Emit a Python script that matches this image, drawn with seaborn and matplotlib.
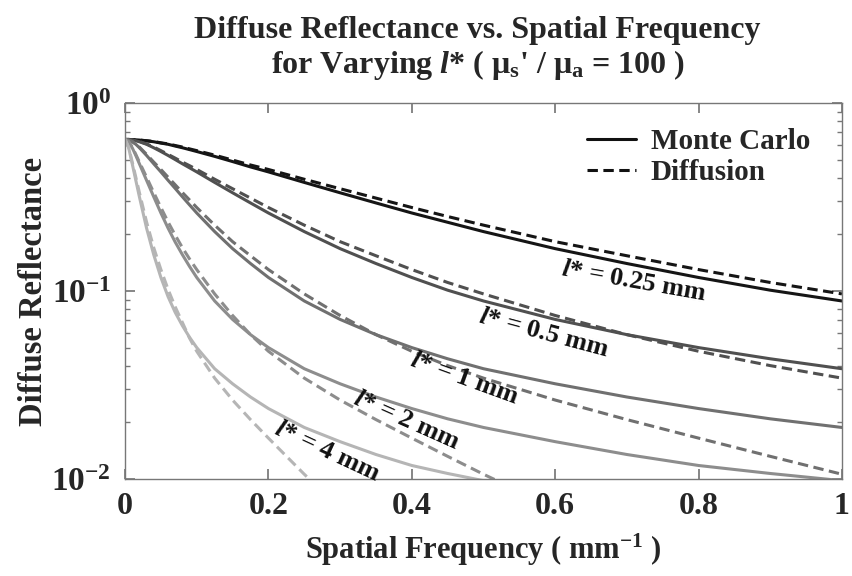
import pandas as pd
import seaborn as sns
import matplotlib.pyplot as plt
from matplotlib.lines import Line2D
from matplotlib.ticker import LogLocator, NullFormatter

# spatial frequency grid (mm^-1)
freq = [0, 0.005, 0.01, 0.015, 0.02, 0.03, 0.04, 0.05, 0.06, 0.07, 0.08, 0.09, 0.1, 0.125,
        0.15, 0.175, 0.2, 0.25, 0.3, 0.35, 0.4, 0.45, 0.5, 0.6, 0.7, 0.8, 0.9, 1.0]

# Monte Carlo diffuse reflectance
mc_025 = [0.640, 0.640, 0.638, 0.637, 0.635, 0.629, 0.622, 0.612, 0.603, 0.590, 0.578, 0.565,
          0.552, 0.520, 0.488, 0.457, 0.430, 0.378, 0.333, 0.294, 0.260, 0.232, 0.207, 0.168,
          0.140, 0.118, 0.101, 0.0885]
mc_05 = [0.640, 0.638, 0.635, 0.629, 0.622, 0.603, 0.578, 0.552, 0.526, 0.500, 0.475, 0.452,
         0.430, 0.378, 0.333, 0.294, 0.260, 0.207, 0.168, 0.140, 0.118, 0.101, 0.0885, 0.0706,
         0.0586, 0.0500, 0.0436, 0.0386]
mc_1 = [0.640, 0.635, 0.622, 0.603, 0.578, 0.526, 0.475, 0.430, 0.388, 0.351, 0.317, 0.287,
        0.260, 0.207, 0.168, 0.140, 0.118, 0.0885, 0.0706, 0.0586, 0.0500, 0.0436, 0.0386,
        0.0321, 0.0273, 0.0237, 0.0209, 0.0188]
mc_2 = [0.640, 0.622, 0.578, 0.526, 0.475, 0.388, 0.317, 0.260, 0.216, 0.182, 0.156, 0.135,
        0.118, 0.0885, 0.0706, 0.0586, 0.0500, 0.0386, 0.0321, 0.0273, 0.0237, 0.0209, 0.0188,
        0.0158, 0.0135, 0.0118, 0.0107, 0.0098]
mc_4 = [0.640, 0.578, 0.475, 0.388, 0.317, 0.216, 0.156, 0.118, 0.0933, 0.0769, 0.0654, 0.0567,
        0.0500, 0.0386, 0.0321, 0.0273, 0.0237, 0.0188, 0.0158, 0.0135, 0.0118, 0.0107, 0.0098,
        0.0084, 0.0073, 0.0065, 0.0059, 0.0054]

# Diffusion model
df_025 = [0.640, 0.640, 0.638, 0.637, 0.635, 0.630, 0.624, 0.614, 0.606, 0.594, 0.583, 0.570,
          0.558, 0.528, 0.497, 0.468, 0.443, 0.393, 0.350, 0.312, 0.278, 0.249, 0.224, 0.183,
          0.154, 0.130, 0.111, 0.0965]
df_05 = [0.640, 0.638, 0.635, 0.630, 0.624, 0.606, 0.583, 0.558, 0.533, 0.509, 0.485, 0.464,
         0.443, 0.393, 0.350, 0.312, 0.278, 0.224, 0.183, 0.154, 0.130, 0.111, 0.0965, 0.0741,
         0.0586, 0.0478, 0.0401, 0.0344]
df_1 = [0.640, 0.635, 0.624, 0.606, 0.583, 0.533, 0.485, 0.443, 0.403, 0.367, 0.334, 0.305,
        0.278, 0.224, 0.183, 0.154, 0.130, 0.0965, 0.0741, 0.0586, 0.0478, 0.0401, 0.0344,
        0.0263, 0.0207, 0.0165, 0.0132, 0.0106]
df_2 = [0.640, 0.624, 0.583, 0.533, 0.485, 0.403, 0.334, 0.278, 0.233, 0.198, 0.170, 0.148,
        0.130, 0.0965, 0.0741, 0.0586, 0.0478, 0.0344, 0.0263, 0.0207, 0.0165, 0.0132, 0.0106,
        0.0070, 0.0046, 0.0031, 0.0021, 0.0014]
df_4 = [0.640, 0.583, 0.485, 0.403, 0.334, 0.233, 0.170, 0.130, 0.102, 0.0823, 0.0680, 0.0561,
        0.0478, 0.0344, 0.0263, 0.0207, 0.0165, 0.0106, 0.0070, 0.0046, 0.0031, 0.0021, 0.0014,
        0.0006, 0.0003, 0.0001, 0.0001, 0.0001]

lstars = ['0.25', '0.5', '1', '2', '4']
mc_all = [mc_025, mc_05, mc_1, mc_2, mc_4]
df_all = [df_025, df_05, df_1, df_2, df_4]
grays = ['#151515', '#505050', '#707070', '#8d8d8d', '#b5b5b5']

# label positions (freq, reflectance, rotation)
lab_x = [0.71, 0.584, 0.474, 0.392, 0.282]
lab_y = [0.112, 0.060, 0.0343, 0.0204, 0.0141]
lab_rot = [-10, -15, -20, -24, -25]

rows = []
for l, mc, dd in zip(lstars, mc_all, df_all):
    for f, a, b in zip(freq, mc, dd):
        rows.append({'freq': f, 'R': a, 'lstar': l, 'model': 'Monte Carlo'})
        rows.append({'freq': f, 'R': b, 'lstar': l, 'model': 'Diffusion'})
data = pd.DataFrame(rows)

sns.set_theme(style='ticks')
plt.rcParams['font.family'] = ['Liberation Serif', 'DejaVu Serif']
plt.rcParams['font.weight'] = 'bold'
plt.rcParams['mathtext.fontset'] = 'custom'
plt.rcParams['mathtext.rm'] = 'Liberation Serif:bold'
plt.rcParams['mathtext.bf'] = 'Liberation Serif:bold'
plt.rcParams['mathtext.it'] = 'Liberation Serif:bold:italic'

fig = plt.figure(figsize=(8.53, 5.76), dpi=100)
ax = fig.add_axes([0.1466, 0.1684, 0.8404, 0.6528])

sns.lineplot(data=data, x='freq', y='R', hue='lstar', style='model',
             palette=dict(zip(lstars, grays)),
             dashes={'Monte Carlo': '', 'Diffusion': (3.4, 1.8)},
             linewidth=2.2, errorbar=None, legend=False, ax=ax, sort=False)

ax.set_yscale('log')
ax.set_xlim(0, 1)
ax.set_ylim(1e-2, 1)
ax.set_xticks([0, 0.2, 0.4, 0.6, 0.8, 1])
ax.set_xticklabels(['0', '0.2', '0.4', '0.6', '0.8', '1'])
ax.set_yticks([1e-2, 1e-1, 1])
ax.set_yticklabels([r'$10^{-2}$', r'$10^{-1}$', r'$10^{0}$'])
ax.yaxis.set_minor_locator(LogLocator(base=10, subs=range(2, 10)))
ax.yaxis.set_minor_formatter(NullFormatter())

for s in ax.spines.values():
    s.set_color('#777777')
    s.set_linewidth(1.0)
    s.set_visible(True)
ax.tick_params(which='both', direction='in', top=True, right=True, color='#777777')
ax.tick_params(which='major', length=7)
ax.tick_params(which='minor', length=3.5)
ax.tick_params(axis='x', labelsize=23, pad=9)
ax.tick_params(axis='y', labelsize=24, pad=10)

ax.set_xlabel(r'Spatial Frequency ( mm$^{-1}$ )', fontsize=22, fontweight='bold', labelpad=8)
ax.set_ylabel('Diffuse Reflectance', fontsize=23.5, fontweight='bold', labelpad=2)

fig.text(0.56, 0.947, 'Diffuse Reflectance vs. Spatial Frequency', ha='center', va='center',
         fontsize=23, fontweight='bold')
fig.text(0.56, 0.888, r"for Varying $\mathit{l}$* ( $\mathrm{\mu_{s}}$' / $\mathrm{\mu_{a}}$ = 100 )",
         ha='center', va='center', fontsize=23, fontweight='bold')

for l, x, y, r in zip(lstars, lab_x, lab_y, lab_rot):
    ax.text(x, y, r'$\mathit{l}$* = ' + l + ' mm', rotation=r, ha='center', va='center',
            fontsize=19, fontweight='bold', color='#111111', rotation_mode='anchor')

handles = [Line2D([0], [0], color='#111111', lw=2.2),
           Line2D([0], [0], color='#111111', lw=2.2, dashes=(3.4, 1.8))]
ax.legend(handles, ['Monte Carlo', 'Diffusion'], loc='upper right', frameon=False,
          fontsize=21, handlelength=1.7, handletextpad=0.5, labelspacing=0.15,
          bbox_to_anchor=(0.98, 0.98), borderaxespad=0.2)

fig.savefig('out.png', dpi=100)
